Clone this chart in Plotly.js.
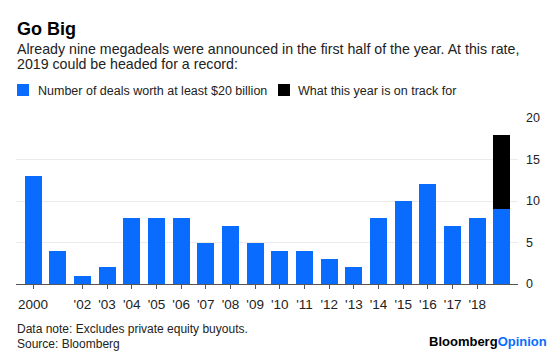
<!DOCTYPE html>
<html>
<head>
<meta charset="utf-8">
<script src="https://cdn.plot.ly/plotly-3.0.1.min.js"></script>
<style>
  html, body { margin: 0; padding: 0; background: #fff; }
  #chart { width: 560px; height: 356px; }
</style>
</head>
<body>
<div id="chart"></div>
<script>
const years = ['2000','2001','2002','2003','2004','2005','2006','2007','2008','2009',
               '2010','2011','2012','2013','2014','2015','2016','2017','2018','2019'];
const dealCounts = [13, 4, 1, 2, 8, 8, 8, 5, 7, 5, 4, 4, 3, 2, 8, 10, 12, 7, 8, 9];
const projectedYears = ['2019'];
const projectedExtra = [9];
const tickYears = ['2000','2002','2003','2004','2005','2006','2007','2008','2009','2010',
                   '2011','2012','2013','2014','2015','2016','2017','2018'];
const tickLabels = ['2000',"'02","'03","'04","'05","'06","'07","'08","'09","'10",
                    "'11","'12","'13","'14","'15","'16","'17","'18"];
const yTicks = [0, 5, 10, 15, 20];
const seriesNames = ['Number of deals worth at least $20 billion', 'What this year is on track for'];

const FONT = 'Liberation Sans, Arial, Helvetica, sans-serif';
const BLUE = '#0a6cff';

// plot-area geometry in pixels (for converting paper positions)
const L = 16, R = 42, T = 118, B = 72, W = 560, H = 356;
const PW = W - L - R, PH = H - T - B;
const px = x => (x - L) / PW;
const py = y => 1 - (y - T) / PH;

const traces = [
  { type: 'bar', name: seriesNames[0], x: years, y: dealCounts,
    marker: { color: BLUE, line: { width: 0 } }, hoverinfo: 'x+y' },
  { type: 'bar', name: seriesNames[1], x: projectedYears, y: projectedExtra,
    marker: { color: '#000000', line: { width: 0 } }, hoverinfo: 'x+y' }
];

function note(text, x, yCenter, size, extra) {
  return Object.assign({
    xref: 'paper', yref: 'paper', x: px(x), y: py(yCenter), xanchor: 'left', yanchor: 'middle',
    text: text, showarrow: false, align: 'left', borderpad: 0,
    font: { family: FONT, size: size, color: '#222' }
  }, extra || {});
}

const layout = {
  width: W, height: H,
  margin: { l: L, r: R, t: T, b: B },
  paper_bgcolor: '#fff', plot_bgcolor: '#fff',
  font: { family: FONT, size: 12, color: '#222' },
  barmode: 'stack',
  bargap: 0.31,
  showlegend: false,
  xaxis: {
    type: 'category', categoryorder: 'array', categoryarray: years,
    range: [-0.69, 19.65], fixedrange: true,
    tickmode: 'array', tickvals: tickYears, ticktext: tickLabels,
    ticks: 'outside', ticklen: 4, tickwidth: 1, tickcolor: '#555',
    ticklabelstandoff: 4,
    showline: false, showgrid: false, zeroline: false,
    tickfont: { family: FONT, size: 13.5, color: '#222' }
  },
  yaxis: {
    side: 'right', range: [0, 20], fixedrange: true,
    tickmode: 'array', tickvals: yTicks,
    showgrid: true, gridcolor: '#ebebeb', gridwidth: 1,
    zeroline: true, zerolinecolor: '#555', zerolinewidth: 1,
    ticks: '', ticklabelstandoff: 7,
    tickfont: { family: FONT, size: 12.5, color: '#222' }
  },
  shapes: [
    { type: 'rect', xref: 'paper', yref: 'paper', x0: px(17), x1: px(29), y0: py(96), y1: py(84),
      fillcolor: BLUE, line: { width: 0 } },
    { type: 'rect', xref: 'paper', yref: 'paper', x0: px(278), x1: px(290), y0: py(96), y1: py(84),
      fillcolor: '#000', line: { width: 0 } }
  ],
  annotations: [
    note('<b>Go Big</b>', 16, 28.7, 18, { font: { family: FONT, size: 18, color: '#000' } }),
    note('Already nine megadeals were announced in the first half of the year. At this rate,', 16, 49.3, 14.2),
    note('2019 could be headed for a record:', 16, 64.3, 14.2),
    note(seriesNames[0], 36.5, 90.6, 12.5),
    note(seriesNames[1], 297, 90.6, 12.5),
    note('Data note: Excludes private equity buyouts.', 16, 329.1, 12),
    note('Source: Bloomberg', 16, 343.5, 12),
    note('<b>Bloomberg</b><b><span style="color:' + BLUE + '">Opinion</span></b>', 548, 341.2, 13,
         { xanchor: 'right', align: 'right', font: { family: FONT, size: 13, color: '#000' } })
  ]
};

Plotly.newPlot('chart', traces, layout, { displayModeBar: false, staticPlot: true });
</script>
</body>
</html>
